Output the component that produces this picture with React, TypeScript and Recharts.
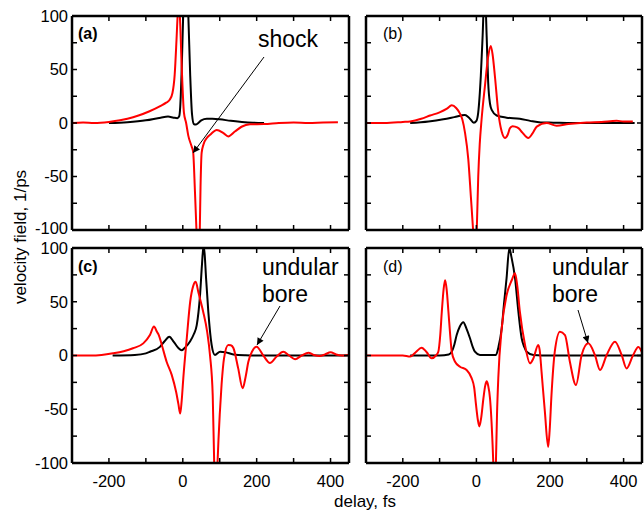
import { LineChart, Line, XAxis, YAxis } from 'recharts';

// [delay fs, velocity field 1/ps]
const A_BLACK: [number, number][] = [
  [-200, 0], [-150, 0.8], [-100, 2.5], [-60, 5], [-40, 6], [-25, 5], [-15, 4.5], [-10, 6],
  [-7, 15], [-3, 50], [1, 100], [6, 140], [10, 140], [15, 100], [20, 45], [25, 8], [30, -1],
  [35, -1.5], [42, 0], [50, 2.5], [65, 4], [80, 4], [100, 3.5], [130, 2], [160, 1], [190, 0.3], [220, 0],
];
const A_RED: [number, number][] = [
  [-300, 0], [-270, 0.5], [-240, 0], [-200, 1], [-170, 2.5], [-150, 4], [-120, 7], [-90, 11],
  [-60, 16], [-45, 19], [-35, 22], [-28, 28], [-22, 45], [-17, 78], [-14, 100], [-11, 110],
  [-8, 100], [-3, 53], [3, 10], [9, 0], [15, -12], [24, -22], [28, -27], [33, -65], [37, -100],
  [40, -130], [43, -130], [46, -100], [48, -60], [51, -28], [56, -20], [65, -14], [74, -11],
  [92, -6.5], [110, -9.5], [123, -12.5], [141, -8], [159, -3.5], [182, -1.2], [220, -1],
  [260, 0], [300, 0.5], [340, 0], [380, 0.5], [420, 0.8],
];
const B_BLACK: [number, number][] = [
  [-180, 0], [-130, 1.5], [-90, 3.5], [-60, 5.5], [-31, 7.5], [-20, 5], [-7, 0.3], [0, 2],
  [5, 10], [12, 44], [17, 82], [21, 115], [24, 115], [28, 80], [32, 38], [37, 18], [42, 12],
  [55, 7], [82, 5], [118, 4], [146, 2], [175, 0.5], [209, 0.3], [260, 0], [330, 0], [430, 0],
];
const B_RED: [number, number][] = [
  [-300, 0], [-250, 0], [-200, 1], [-180, 1.5], [-150, 4], [-126, 7], [-100, 10], [-80, 13.5],
  [-67, 16.5], [-55, 14], [-45, 9], [-38, 3], [-31, -9], [-22, -34], [-15, -69], [-9, -100],
  [-5, -125], [-2, -125], [1, -100], [5, -50], [9, -20], [14, 3], [23, 34], [32, 62], [39, 72],
  [44, 64], [50.5, 43], [59.5, 10], [68.7, -8], [77.7, -14], [85, -11], [91, -5], [98, -3],
  [105, -3.4], [115, -5], [125, -9], [141, -14], [152, -10], [164, -3.4], [191, 0], [218, -2.6],
  [250, -1], [300, 0.5], [340, 1], [381, 2], [400, 1.5], [425, 1.5],
];
const C_BLACK: [number, number][] = [
  [-190, 0], [-130, 0.5], [-100, 2], [-89, 3.5], [-62, 8], [-50, 13], [-36.5, 17.5], [-25, 13],
  [-12, 7], [-3, 5], [8, 8], [19.5, 13], [30, 20], [37.6, 28], [46.6, 56], [52, 85], [56, 102],
  [59, 95], [63, 72], [69, 41], [78, 10], [87, 0.5], [101, 3.5], [115, 3], [137, 1], [170, 0.3],
  [220, 0], [300, 0], [450, 0],
];
const C_RED: [number, number][] = [
  [-300, 0], [-250, 0], [-220, 0.5], [-189, 2], [-160, 4], [-135, 6.7], [-107, 11.3], [-89, 19],
  [-78, 27], [-70, 22], [-65, 19], [-57, 10], [-43.6, -6], [-30, -18], [-18, -34], [-12, -45],
  [-7, -54], [-3, -42], [1.4, -21], [11, 17], [20, 50], [28.5, 65], [35, 68.5], [42, 59],
  [55, 41], [66, 22], [73.7, 0], [81, -37], [85, -100], [88, -130], [91, -130], [94, -100],
  [100, -55], [105, -27], [111.6, -2.6], [123, 9.8], [130, 9.5], [137, 7], [150, -12],
  [162, -30.5], [170, -20], [177.5, -5.8], [188, 4], [200, 8.2], [218, 0], [236, -7], [254, -1],
  [272, 3.5], [288, 0], [304, -3.5], [322, 0], [340, 2.6], [355, 0.5], [371, -0.5], [385, 1],
  [400, 3], [415, 1], [430, 0], [450, 0.8],
];
const D_BLACK: [number, number][] = [
  [-180, 0], [-100, 0], [-75, 1], [-67, 3.5], [-60, 10], [-53.6, 19], [-45, 27], [-35.6, 31],
  [-27, 25], [-17.4, 16], [-10, 8], [-4, 3.5], [9.7, 0.5], [53, 0.5], [60, 8], [68.7, 25],
  [75, 48], [82, 72], [89.5, 100], [95, 92], [105, 72], [114, 41], [123, 16], [130, 8],
  [136.6, 3.5], [155, 0.5], [200, 0], [450, 0],
];
const D_RED: [number, number][] = [
  [-300, 0], [-250, 0], [-200, 0], [-180, -1], [-165, 3], [-149, 7.3], [-135, 3], [-121.5, -2.6],
  [-110, 0], [-103.5, 3.5], [-98, 20], [-94, 40.7], [-89, 62], [-85, 70], [-81, 62], [-76, 40.7],
  [-71, 18], [-67, 3.5], [-58, -5.8], [-44.6, -10.4], [-26.6, -13.5], [-13, -21], [-6, -30],
  [-1, -46], [4, -60], [8, -66], [13, -58], [19, -40], [24, -28], [28, -24], [32, -28], [37, -40],
  [44, -83], [47, -110], [50, -130], [53, -100], [56, -55], [59.5, -21], [68.7, 25], [82, 56],
  [96, 70], [105, 76.4], [111, 65], [118, 41], [132, 10], [145.6, -7.3], [155, -2.6], [168, 9.8],
  [172, 5], [177, -15], [186, -52], [195, -85], [199, -70], [204, -37], [213, 3.5], [227, 22],
  [240.7, 19], [254, -5.8], [270.6, -27.4], [286, 0.5], [304, 11.3], [322, 0.5], [336, -13.5],
  [354, 0.5], [376.5, 12.9], [394.7, 0.5], [408, -12], [426, 0.5], [440, 8], [450, 3],
];

const X_DOMAIN: [number, number] = [-300, 450];
const X_TICKS = [-200, -100, 0, 100, 200, 300, 400];
const Y_DOMAIN: [number, number] = [-100, 100];
const Y_TICKS = [-100, -75, -50, -25, 0, 25, 50, 75, 100];

const FONT = "'Liberation Sans', Arial, Helvetica, sans-serif";
const TICK_FONT = 16.5;
const W = 644;
const H = 512;

type Box = { x0: number; x1: number; y0: number; y1: number };

const toRows = (pts: [number, number][]) => pts.map(([x, y]) => ({ x, y }));

function Panel({ box, black, red, showX, showY, edge }: {
  box: Box; black: [number, number][]; red: [number, number][];
  showX: boolean; showY: boolean; edge: 'top' | 'bottom';
}) {
  const margin = { top: box.y0 - 2, left: box.x0 - 60, right: W - box.x1 - 2, bottom: H - box.y1 - 40 };
  const tickStyle = { fontSize: TICK_FONT, fill: '#000', fontFamily: FONT };
  const axisLine = { stroke: '#000', strokeWidth: 2.5 };
  const tickLine = { stroke: '#000', strokeWidth: 1.5 };
  const none = () => '';

  // y labels: nudge the ones at the seam between the stacked panels apart a little
  const yTick = (p: any) => {
    const v = p.payload.value;
    if (!showY || v % 50 !== 0) return <g />;
    let shift = 0;
    if (edge === 'top' && v === -100) shift = -2;
    if (edge === 'bottom' && v === 100) shift = 0.5;
    return (
      <text x={p.x} y={p.y + shift} dy={TICK_FONT * 0.355} textAnchor="end" style={tickStyle}>
        {v}
      </text>
    );
  };

  return (
    <div style={{ position: 'absolute', left: 0, top: 0 }}>
      <LineChart width={W} height={H} margin={margin}>
        <XAxis xAxisId="b" orientation="bottom" type="number" dataKey="x" domain={X_DOMAIN}
          allowDataOverflow ticks={X_TICKS} interval={0} height={40} tickSize={-5} tickMargin={17}
          axisLine={axisLine} tickLine={tickLine} tick={tickStyle}
          tickFormatter={showX ? (v: number) => (v % 200 === 0 ? String(v) : '') : none} />
        <XAxis xAxisId="t" orientation="top" type="number" dataKey="x" domain={X_DOMAIN}
          allowDataOverflow ticks={X_TICKS} interval={0} height={2} tickSize={-5}
          axisLine={axisLine} tickLine={tickLine} tick={tickStyle} tickFormatter={none} />
        <YAxis yAxisId="l" orientation="left" type="number" domain={Y_DOMAIN} allowDataOverflow
          ticks={Y_TICKS} interval={0} width={60} tickSize={-5} tickMargin={9}
          axisLine={axisLine} tickLine={tickLine} tick={yTick} />
        <YAxis yAxisId="r" orientation="right" type="number" domain={Y_DOMAIN} allowDataOverflow
          ticks={Y_TICKS} interval={0} width={2} tickSize={-5}
          axisLine={axisLine} tickLine={tickLine} tick={tickStyle} tickFormatter={none} />
        <Line xAxisId="b" yAxisId="l" data={toRows(black)} dataKey="y" type="monotone"
          stroke="#000" strokeWidth={2} dot={false} isAnimationActive={false} />
        <Line xAxisId="b" yAxisId="l" data={toRows(red)} dataKey="y" type="monotone"
          stroke="#ff0000" strokeWidth={2} dot={false} isAnimationActive={false} />
      </LineChart>
    </div>
  );
}

const TOP_LEFT: Box = { x0: 72, x1: 349, y0: 16, y1: 230 };
const TOP_RIGHT: Box = { x0: 366, x1: 642, y0: 16, y1: 230 };
const BOT_LEFT: Box = { x0: 72, x1: 349, y0: 248, y1: 463 };
const BOT_RIGHT: Box = { x0: 366, x1: 642, y0: 248, y1: 463 };

export default function App() {
  const note = { fontFamily: FONT, fontSize: 23, fill: '#000' };
  const tag = { fontFamily: FONT, fontSize: 16, fill: '#000' };
  return (
    <div style={{ position: 'absolute', left: 0, top: 0, width: W, height: H, background: '#fff' }}>
      <Panel box={TOP_LEFT} black={A_BLACK} red={A_RED} showX={false} showY edge="top" />
      <Panel box={TOP_RIGHT} black={B_BLACK} red={B_RED} showX={false} showY={false} edge="top" />
      <Panel box={BOT_LEFT} black={C_BLACK} red={C_RED} showX showY edge="bottom" />
      <Panel box={BOT_RIGHT} black={D_BLACK} red={D_RED} showX showY={false} edge="bottom" />
      <svg width={W} height={H} style={{ position: 'absolute', left: 0, top: 0 }}>
        <defs>
          <marker id="head" viewBox="0 0 10 10" refX="10" refY="5" markerWidth="9" markerHeight="7"
            markerUnits="userSpaceOnUse" orient="auto">
            <path d="M0,0 L10,5 L0,10 z" fill="#000" />
          </marker>
        </defs>
        <text x={78} y={39} style={{ ...tag, fontWeight: 'bold' }}>(a)</text>
        <text x={383} y={39} style={tag}>(b)</text>
        <text x={78} y={272} style={{ ...tag, fontWeight: 'bold' }}>(c)</text>
        <text x={383} y={272} style={tag}>(d)</text>
        <text x={258} y={47} style={note}>shock</text>
        <line x1={264} y1={57} x2={193} y2={153} stroke="#000" strokeWidth={1} markerEnd="url(#head)" />
        <text x={262} y={275} style={note}>undular</text>
        <text x={262} y={302} style={note}>bore</text>
        <line x1={280} y1={306} x2={257} y2={345} stroke="#000" strokeWidth={1} markerEnd="url(#head)" />
        <text x={552} y={275} style={note}>undular</text>
        <text x={552} y={302} style={note}>bore</text>
        <line x1={578} y1={310} x2={588} y2={343} stroke="#000" strokeWidth={1} markerEnd="url(#head)" />
        <text x={365} y={507} textAnchor="middle" style={{ fontFamily: FONT, fontSize: 17, fill: '#000' }}>delay, fs</text>
        <text x={26} y={237} textAnchor="middle" transform="rotate(-90 26 237)"
          style={{ fontFamily: FONT, fontSize: 17, fill: '#000' }}>velocity field, 1/ps</text>
      </svg>
    </div>
  );
}
